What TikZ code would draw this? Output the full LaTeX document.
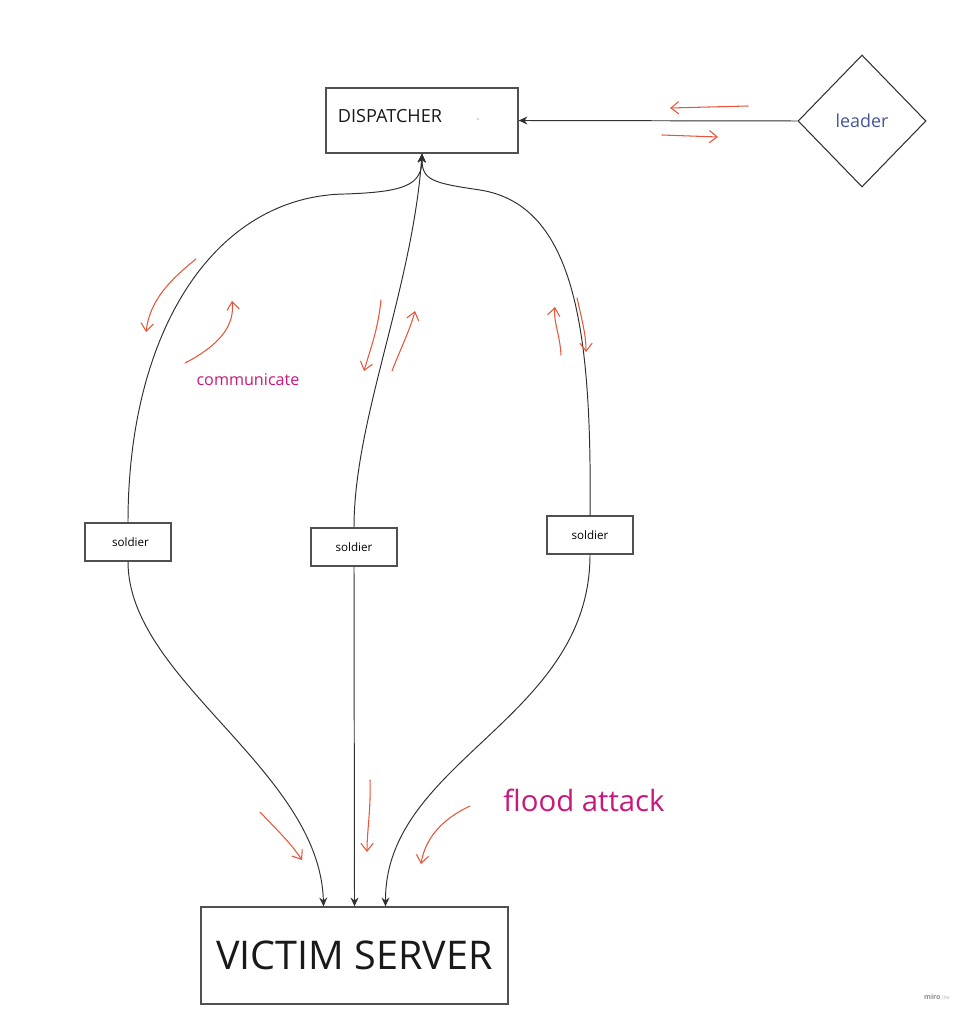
\documentclass[tikz,border=0pt]{standalone}
\usepackage{fontspec}
\setmainfont{Open Sans}
\usetikzlibrary{shapes.geometric,arrows.meta}
\definecolor{boxgray}{HTML}{505050}
\definecolor{linegray}{HTML}{303030}
\definecolor{handred}{HTML}{E8553A}
\definecolor{notepink}{HTML}{C8187C}
\definecolor{leadblue}{HTML}{46549A}

\begin{document}
\begin{tikzpicture}
  [x=0.02cm,y=-0.02cm,
   box/.style={rectangle, draw=boxgray, line width=0.75pt, inner sep=0pt},
   conn/.style={draw=linegray, line width=0.55pt, -{Stealth[length=5pt,width=4.5pt]}},
   hand/.style={draw=handred, line width=0.6pt, line cap=round, -{Straight Barb[length=4.5pt,width=7pt]}},
   note/.style={text=notepink, inner sep=0pt}]
  \useasboundingbox (0,0) rectangle (977,1023);

  % boxes
  \node[box, minimum width=3.84cm, minimum height=1.3cm] (disp) at (422,120.5) {};
  \node[inner sep=0pt, font=\fontsize{10.3}{12}\selectfont, text=black!90] (disptext) at (390,116) {DISPATCHER};
  \fill[black!70] (478,119) circle (0.6);
  \node[diamond, draw=linegray, line width=0.6pt, inner sep=0pt, minimum width=2.56cm, minimum height=2.64cm,
        font=\fontsize{10.2}{12}\selectfont, text=leadblue] (leader) at (862,121) {leader};

  \node[box, minimum width=1.72cm, minimum height=0.76cm, font=\fontsize{6.6}{8}\selectfont] (s1) at (128,542) {\raisebox{-0.1cm}{\hspace{0.1cm}soldier}};
  \node[box, minimum width=1.72cm, minimum height=0.76cm, font=\fontsize{6.6}{8}\selectfont] (s2) at (354,547) {soldier};
  \node[box, minimum width=1.72cm, minimum height=0.76cm, font=\fontsize{6.6}{8}\selectfont] (s3) at (590,535) {soldier};

  \node[box, minimum width=6.14cm, minimum height=1.94cm, font=\fontsize{22.5}{26}\selectfont, text=black!90] (victim) at (354.5,955.5) {VICTIM SERVER};

  % connectors
  \draw[conn] (leader.west) -- (disp.east);
  \draw[conn] (s1.north) .. controls (128,330) and (215,196) .. (345,194) .. controls (405,192) and (422,185) .. (disp.south);
  \draw[conn] (s2.north) .. controls (354,420) and (412,290) .. (disp.south);
  \draw[conn] (s3.north) .. controls (592,330) and (575,205) .. (480,190) .. controls (432,183) and (422,180) .. (disp.south);

  \draw[conn] (s1.south) .. controls (128,680) and (320,770) .. ([xshift=-0.62cm]victim.north);
  \draw[conn] (s2.south) -- (victim.north);
  \draw[conn] (s3.south) .. controls (590,720) and (385,760) .. ([xshift=0.62cm]victim.north);

  % hand drawn arrows
  \draw[hand] (748,106) -- (670,108);
  \draw[hand] (662,135) -- (718,137);
  \draw[hand] (196,259) .. controls (170,280) and (150,300) .. (146,332);
  \draw[hand] (185,363) .. controls (220,345) and (235,325) .. (232,301);
  \draw[hand] (381,300) .. controls (378,330) and (370,350) .. (364,371);
  \draw[hand] (392,371) .. controls (400,350) and (410,330) .. (415,311);
  \draw[hand] (561,355) .. controls (560,335) and (553,320) .. (555,307);
  \draw[hand] (577,298) .. controls (582,320) and (586,335) .. (586,352);
  \draw[hand] (260,812) .. controls (275,828) and (290,842) .. (302,860);
  \draw[hand] (370,780) .. controls (371,810) and (367,830) .. (367,852);
  \draw[hand] (470,806) .. controls (440,820) and (425,840) .. (421,864);

  % labels
  \node[note, font=\fontsize{9.2}{11}\selectfont] (comm) at (248,380) {communicate};
  \node[note, font=\fontsize{16.7}{20}\selectfont] (flood) at (584,800) {flood attack};
  \node[inner sep=0pt, font=\fontsize{4}{5}\selectfont\bfseries, text=black!45] (miro) at (937,997) {miro \textcolor{black!30}{\fontsize{3}{4}\selectfont\mdseries lite}};

\end{tikzpicture}
\end{document}
